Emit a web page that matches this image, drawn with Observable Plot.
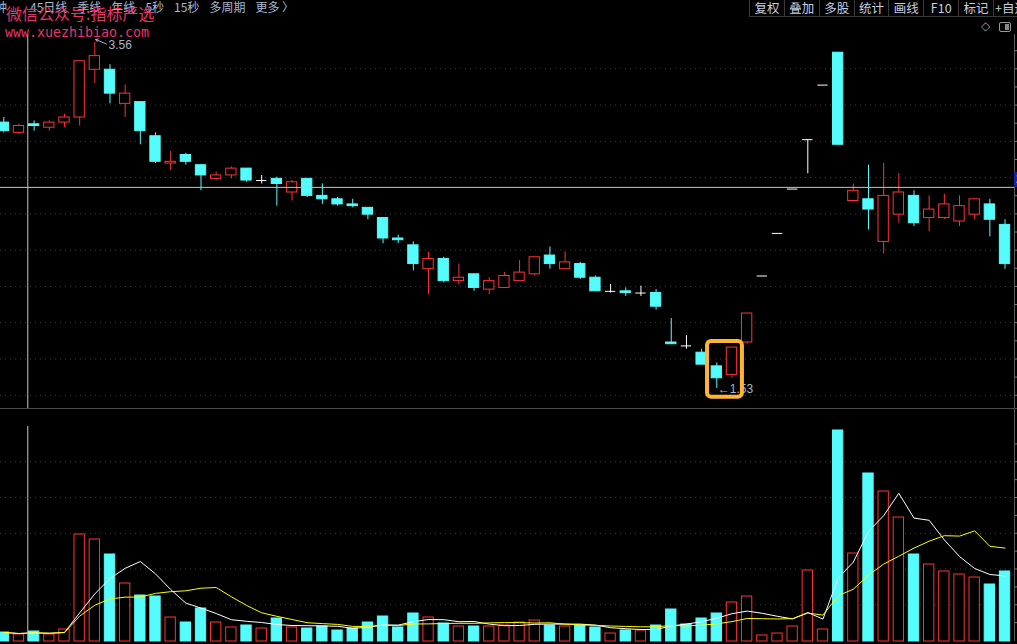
<!DOCTYPE html>
<html><head><meta charset="utf-8">
<script src="https://cdn.jsdelivr.net/npm/d3@7"></script>
<script src="https://cdn.jsdelivr.net/npm/@observablehq/plot@0.6"></script>
<style>
html,body{margin:0;padding:0;background:#000;width:1017px;height:644px;overflow:hidden;font-family:"Liberation Sans","Noto Sans CJK SC",sans-serif;}
#wrap{position:relative;width:1017px;height:644px;overflow:hidden;background:#000;}
.abs{position:absolute;white-space:nowrap;}
#price{position:absolute;left:0;top:0;}
#vol{position:absolute;left:0;top:408px;}
#periods{position:absolute;left:-17px;top:0;height:16px;display:flex;gap:10px;font-size:12px;line-height:14px;color:#a9b8cf;font-family:"Noto Sans CJK SC",sans-serif;}
#periods span:first-child{margin-right:13px;}
#buttons{position:absolute;left:749px;top:0;height:16px;display:flex;border-bottom:1px solid #3a3a3a;width:300px;}
#buttons div{width:33.86px;border-left:1px solid #3a3a3a;text-align:center;font-size:12.5px;line-height:15px;color:#c4d0e4;font-family:"Noto Sans CJK SC",sans-serif;flex:none;}
.wm1{left:6px;top:5px;font-size:16px;line-height:17px;color:#e8356c;font-family:"Noto Sans CJK SC",sans-serif;}
.wm2{left:5px;top:26px;font-size:13.3px;line-height:14px;color:#e8356c;font-family:"DejaVu Sans Mono",monospace;}
</style></head><body>
<div id="wrap">
  <div id="price"></div>
  <div id="vol"></div>
  <div class="abs" style="left:0;top:408px;width:1017px;height:1px;background:#4a4a4a"></div>
  <div id="periods"></div>
  <div id="buttons"></div>
  <div class="abs" style="left:981px;top:19px;font-size:12px;color:#9a9a9a;font-family:'DejaVu Sans',sans-serif;">◇</div>
  <div class="abs" style="left:999px;top:22px;width:10px;height:8px;border:1px solid #9a9a9a;border-radius:2px;"><div style="position:absolute;right:1px;top:1px;width:4px;height:6px;background:#8a8a8a"></div></div>
  <div class="abs wm1">微信公众号:指标严选</div>
  <div class="abs wm2">www.xuezhibiao.com</div>
  <div id="cursorLabel" class="abs" style="left:1014px;top:172px;width:40px;height:15px;background:#13239c;color:#fff;font-size:12px;line-height:15px;padding-left:2px;"></div>
</div>
<script>
// ---- data (daily candles, oldest to newest) ----
const opens  = [3.09,3.03,3.08,3.06,3.09,3.12,3.40,3.40,3.20,3.21,3.01,2.85,2.90,2.84,2.76,2.78,2.82,2.75,2.76,2.68,2.76,2.66,2.64,2.61,2.59,2.53,2.41,2.37,2.23,2.29,2.16,2.20,2.11,2.12,2.16,2.20,2.31,2.23,2.26,2.18,2.10,2.10,2.09,2.09,1.80,1.78,1.74,1.66,1.61,1.80,2.19,2.44,2.70,2.99,3.31,3.50,2.63,2.64,2.39,2.55,2.66,2.53,2.53,2.51,2.55,2.61,2.49];
const highs  = [3.12,3.08,3.10,3.10,3.14,3.45,3.56,3.43,3.31,3.21,3.03,2.92,2.91,2.84,2.80,2.83,2.82,2.78,2.77,2.75,2.76,2.73,2.65,2.64,2.59,2.53,2.43,2.39,2.33,2.30,2.26,2.20,2.18,2.21,2.28,2.30,2.36,2.33,2.27,2.19,2.14,2.12,2.13,2.11,1.94,1.84,1.76,1.68,1.77,1.97,2.19,2.44,2.70,2.99,3.31,3.50,2.73,2.84,2.85,2.79,2.69,2.66,2.67,2.66,2.64,2.64,2.52];
const lows   = [3.03,3.02,3.04,3.04,3.06,3.07,3.32,3.20,3.12,2.96,2.85,2.81,2.84,2.69,2.75,2.76,2.74,2.73,2.60,2.63,2.65,2.61,2.60,2.59,2.52,2.38,2.38,2.22,2.08,2.15,2.14,2.10,2.08,2.12,2.16,2.19,2.23,2.23,2.17,2.10,2.09,2.07,2.07,1.99,1.79,1.76,1.67,1.53,1.59,1.79,2.19,2.44,2.70,2.79,3.31,2.96,2.63,2.46,2.32,2.50,2.48,2.45,2.52,2.48,2.52,2.42,2.23];
const closes = [3.04,3.07,3.07,3.09,3.12,3.45,3.48,3.26,3.26,3.04,2.86,2.86,2.86,2.78,2.78,2.82,2.75,2.75,2.73,2.74,2.66,2.64,2.61,2.60,2.55,2.41,2.40,2.26,2.29,2.16,2.18,2.12,2.16,2.19,2.21,2.30,2.26,2.27,2.18,2.10,2.10,2.09,2.09,2.01,1.79,1.78,1.67,1.59,1.77,1.97,2.19,2.44,2.70,2.99,3.31,2.96,2.69,2.58,2.66,2.68,2.50,2.58,2.61,2.60,2.64,2.52,2.26];
const volumes = [9,7,10,7,12,107,102,87,58,46,45,24,19,33,19,14,16,13,23,14,13,15,11,13,19,25,14,28,24,18,15,15,15,16,19,21,16,15,16,14,8,11,11,16,32,17,23,28,39,45,6,8,15,71,12,211,88,168,150,124,87,77,70,67,64,57,70];
const periodLabels = ["分钟","45日线","季线","年线","5秒","15秒","多周期","更多 〉"];
const buttonLabels = ["复权","叠加","多股","统计","画线","F10","标记","+自选"];
const highlight = [47, 48];          // candles boxed in orange
const cursorIndex = 1.58;            // crosshair position (candle index)
const cursorPrice = 2.71;            // crosshair price level

// ---- page chrome ----
const per = document.getElementById("periods");
periodLabels.forEach(t => { const s = document.createElement("span"); s.textContent = t; per.appendChild(s); });
const btn = document.getElementById("buttons");
buttonLabels.forEach(t => { const s = document.createElement("div"); s.textContent = t; btn.appendChild(s); });
document.getElementById("cursorLabel").textContent = cursorPrice.toFixed(2);

// ---- derived ----
const RED = "#ff3232", CYAN = "#54fcfc", WHITE = "#ffffff", LABEL = "#aab6c8";
const bars = opens.map((o, i) => ({i, o, h: highs[i], l: lows[i], c: closes[i], v: volumes[i]}));
bars.forEach((d, k) => {
  d.dir = d.c > d.o ? 1 : d.c < d.o ? -1 : 0;
  const prev = k ? closes[k - 1] : d.c;
  d.volUp = d.dir ? d.dir > 0 : d.c >= prev;
  d.col = d.dir > 0 ? RED : d.dir < 0 ? CYAN : WHITE;
  d.ma5 = d3.mean(volumes.slice(Math.max(0, k - 4), k + 1));
  d.ma10 = d3.mean(volumes.slice(Math.max(0, k - 9), k + 1));
});
const half = 0.34;
const xDomain = [-0.2175, 66.625];
const W = 1017;
const hiBar = bars[d3.maxIndex(bars, d => d.h)];
const loBar = bars[d3.minIndex(bars, d => d.l)];
const hb = highlight.map(i => bars[i]);
const box = {x1: highlight[0] - 0.61, x2: highlight[1] + 0.69,
             y1: d3.min(hb, d => d.l) - 0.051, y2: d3.max(hb, d => d.h) + 0.036};

const priceGrid = d3.range(10).map(k => 3.4057 - 0.2128 * k);
const priceTicks = d3.range(20).map(k => 3.512 - 0.1064 * k);
const volGrid = d3.range(5).map(k => 36.7 + 35.75 * k);
const volTicks = d3.range(11).map(k => 18.85 + 17.875 * k);

const common = {
  width: W, marginLeft: 0, marginRight: 3,
  style: {background: "transparent", fontFamily: "'Liberation Sans','Noto Sans CJK SC',sans-serif", fontSize: "12px", overflow: "visible"},
  color: {type: "identity"},
  x: {domain: xDomain, axis: null}
};

const price = Plot.plot({
  ...common,
  height: 409, marginTop: 34, marginBottom: 1,
  y: {domain: [1.4127, 3.6069], axis: null},
  marks: [
    Plot.gridY(priceGrid, {stroke: "#3f3f3f", strokeOpacity: 1, strokeDasharray: "1,4"}),
    Plot.ruleX([xDomain[1]], {stroke: "#5a5a5a"}),
    Plot.axisY(priceTicks, {anchor: "right", tickSize: 3, tickFormat: () => "", stroke: "#7a7a7a"}),
    Plot.ruleX(bars, {x: "i", y1: "l", y2: "h", stroke: "col"}),
    Plot.rect(bars.filter(d => d.dir !== 0), {x1: d => d.i - half, x2: d => d.i + half, y1: "o", y2: "c",
      fill: d => d.dir > 0 ? "#000000" : CYAN, stroke: "col"}),
    Plot.ruleY(bars.filter(d => d.dir === 0), {y: "c", x1: d => d.i - half, x2: d => d.i + half, stroke: WHITE}),
    Plot.arrow([hiBar], {x1: d => d.i + 0.77, y1: d => d.h - 0.009, x2: d => d.i + 0.05, y2: d => d.h + 0.018,
      stroke: LABEL, headLength: 4, strokeWidth: 1}),
    Plot.text([hiBar], {x: d => d.i + 0.9, y: "h", dy: 2.5, text: d => d.h.toFixed(2), textAnchor: "start", fill: LABEL, fontSize: 12}),
    Plot.text([loBar], {x: "i", y: "l", dx: 1, dy: 1, text: d => "←" + d.l.toFixed(2), textAnchor: "start", fill: LABEL, fontSize: 12}),
    Plot.rect([box], {x1: "x1", x2: "x2", y1: "y1", y2: "y2", fill: "none", stroke: "#ffb432", strokeWidth: 4, rx: 4}),
    Plot.ruleX([cursorIndex], {stroke: "#c4c4c4"}),
    Plot.ruleY([cursorPrice], {stroke: "#c4c4c4"})
  ]
});
document.getElementById("price").appendChild(price);

const vol = Plot.plot({
  ...common,
  height: 236, marginTop: 0, marginBottom: 3,
  y: {domain: [0, 233], axis: null},
  marks: [
    Plot.gridY(volGrid, {stroke: "#3f3f3f", strokeOpacity: 1, strokeDasharray: "1,4"}),
    Plot.ruleX([xDomain[1]], {stroke: "#5a5a5a"}),
    Plot.axisY(volTicks, {anchor: "right", tickSize: 3, tickFormat: () => "", stroke: "#7a7a7a"}),
    Plot.rect(bars, {x1: d => d.i - half, x2: d => d.i + half, y1: 0, y2: "v",
      fill: d => d.volUp ? "#000000" : CYAN, stroke: d => d.volUp ? RED : CYAN}),
    Plot.lineY(bars, {x: "i", y: "ma5", stroke: WHITE, strokeWidth: 1}),
    Plot.lineY(bars, {x: "i", y: "ma10", stroke: "#ffff00", strokeWidth: 1}),
    Plot.ruleX([cursorIndex], {y1: 0, y2: 215, stroke: "#c4c4c4"})
  ]
});
document.getElementById("vol").appendChild(vol);
</script>
</body></html>
